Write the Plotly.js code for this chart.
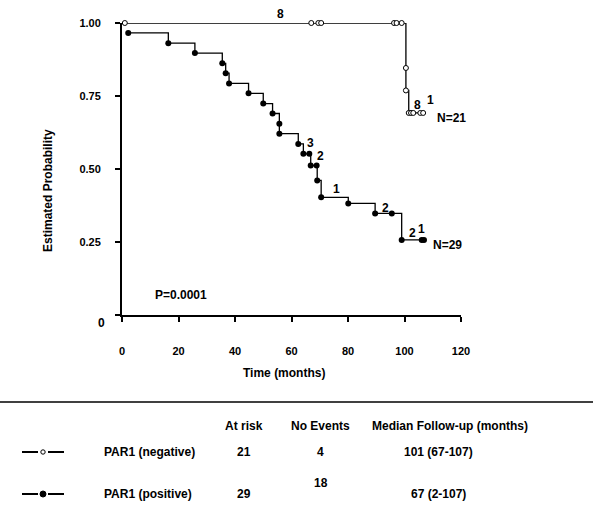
<!DOCTYPE html>
<html><head><meta charset="utf-8">
<script src="https://cdn.plot.ly/plotly-3.0.1.min.js"></script>
<style>html,body{margin:0;padding:0;background:#fff}#c{width:593px;height:505px}</style>
</head><body><div id="c"></div>
<script>
// Kaplan-Meier data
const negTime = [1, 67, 69.5, 70.5, 96.3, 97.2, 99, 100.5, 100.5, 101.5, 102.3, 103.1, 105.6, 106.6];
const negProb = [1, 1, 1, 1, 1, 1, 1, 0.846, 0.769, 0.692, 0.692, 0.692, 0.692, 0.692];
const posTime = [2.2, 16.4, 25.8, 35.5, 36.7, 37.9, 44.8, 50.0, 53.3, 55.7, 55.7, 62.4, 64.2, 66.3, 66.8, 68.9, 69.1, 70.5, 80.1, 89.6, 95.5, 99.0, 106.1, 106.9];
const posProb = [0.966, 0.931, 0.897, 0.862, 0.828, 0.793, 0.759, 0.724, 0.690, 0.655, 0.621, 0.586, 0.552, 0.552, 0.512, 0.512, 0.461, 0.403, 0.382, 0.348, 0.348, 0.257, 0.257, 0.257];
const xTicks = [0, 20, 40, 60, 80, 100, 120];
const yTicks = [0, 0.25, 0.5, 0.75, 1];
const yTickText = ['', '0.25', '0.50', '0.75', '1.00'];
// counts written on the curves: [time, prob, text]
const curveLabels = [
  [104.7, 0.72, '8'], [109.3, 0.735, '1'], [116.5, 0.675, 'N=21'],
  [66.9, 0.59, '3'], [70.2, 0.545, '2'], [76, 0.432, '1'], [93.1, 0.365, '2'],
  [102.8, 0.28, '2'], [105.9, 0.293, '1'], [115.2, 0.24, 'N=29'], [21, 0.067, 'P=0.0001']
];
const topLabel = '8';
const tableHeaders = ['At risk', 'No Events', 'Median Follow-up (months)'];
const groups = ['PAR1 (negative)', 'PAR1 (positive)'];
const atRisk = ['21', '29'];
const noEvents = ['4', '18'];
const medianFU = ['101 (67-107)', '67 (2-107)'];

// pixel -> paper helpers (plot area: x 122..461, y 23..315)
const L = 122, R = 461, T = 23, B = 315;
const px = v => (v - L) / (R - L);
const py = v => (B - v) / (B - T);
const F = {family: 'Liberation Sans, Arial, sans-serif', size: 12, color: '#000', weight: 'bold'};

const traces = [
  {x: negTime, y: negProb, mode: 'lines+markers', line: {shape: 'hv', color: '#000', width: 1.3},
   marker: {symbol: 'circle', size: 5, color: '#fff', line: {color: '#000', width: 1}}, cliponaxis: false, showlegend: false},
  {x: posTime, y: posProb, mode: 'lines+markers', line: {shape: 'hv', color: '#000', width: 1.3},
   marker: {symbol: 'circle', size: 6, color: '#000'}, cliponaxis: false, showlegend: false}
];

const ann = curveLabels.map(c => ({x: c[0], y: c[1], xref: 'x', yref: 'y', text: c[2], showarrow: false, font: F}));
function t(x, y, text, anchor, extra) {
  ann.push(Object.assign({x: px(x), y: py(y), xref: 'paper', yref: 'paper', text: text, showarrow: false,
    xanchor: anchor || 'center', yanchor: 'middle', font: F}, extra || {}));
}
t(280, 14, topLabel);
t(101, 323, '0', 'center');
t(284, 373, 'Time (months)');
t(48, 191, 'Estimated Probability', 'center', {textangle: -90});
t(244, 426, tableHeaders[0]);
t(320, 426, tableHeaders[1]);
t(450, 426, tableHeaders[2]);
t(102, 452, groups[0], 'left');
t(102, 494, groups[1], 'left');
t(244, 452, atRisk[0]);
t(244, 494, atRisk[1]);
t(320, 452, noEvents[0]);
t(321, 483, noEvents[1]);
t(438, 452, medianFU[0]);
t(438, 494, medianFU[1]);

const shapes = [
  {type: 'line', xref: 'paper', yref: 'paper', x0: px(0), x1: px(593), y0: py(402), y1: py(402), line: {color: '#000', width: 1.5}},
];
[[452, false], [494, true]].forEach(([yy, filled]) => {
  shapes.push({type: 'line', xref: 'paper', yref: 'paper', x0: px(22), x1: px(38), y0: py(yy), y1: py(yy), line: {color: '#000', width: 2}});
  shapes.push({type: 'line', xref: 'paper', yref: 'paper', x0: px(48), x1: px(64), y0: py(yy), y1: py(yy), line: {color: '#000', width: 2}});
  const r = filled ? 3 : 2.2;
  shapes.push({type: 'circle', xref: 'paper', yref: 'paper', x0: px(43 - r), x1: px(43 + r), y0: py(yy - r), y1: py(yy + r),
    fillcolor: filled ? '#000' : '#fff', line: {color: '#000', width: 1}});
});

const layout = {
  width: 593, height: 505, paper_bgcolor: '#fff', plot_bgcolor: '#fff',
  margin: {l: L, r: 593 - R, t: T, b: 505 - B, pad: 0},
  showlegend: false,
  xaxis: {range: [0, 120], tickvals: xTicks, ticks: 'outside', ticklen: 5, tickwidth: 2, tickcolor: '#000',
    showline: true, linewidth: 2, linecolor: '#000', showgrid: false, zeroline: false,
    tickfont: {family: F.family, size: 11, color: '#000', weight: 'bold'}, ticklabelstandoff: 20},
  yaxis: {range: [0, 1], tickvals: yTicks, ticktext: yTickText, ticks: 'outside', ticklen: 5, tickwidth: 2, tickcolor: '#000',
    showline: true, linewidth: 2, linecolor: '#000', showgrid: false, zeroline: false,
    tickfont: {family: F.family, size: 11, color: '#000', weight: 'bold'}, ticklabelstandoff: 12},
  annotations: ann, shapes: shapes
};
Plotly.newPlot('c', traces, layout, {displayModeBar: false, staticPlot: true});
</script></body></html>
